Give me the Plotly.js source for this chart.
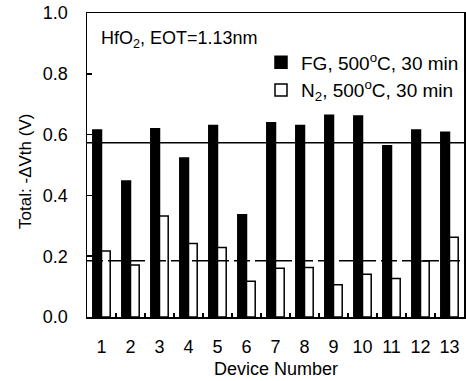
<!DOCTYPE html>
<html>
<head>
<meta charset="utf-8">
<script src="https://cdn.plot.ly/plotly-3.0.1.min.js"></script>
<style>
  html, body { margin: 0; padding: 0; background: #fff; }
  #chart { width: 466px; height: 381px; }
</style>
</head>
<body>
<div id="chart"></div>
<script>
// Threshold-voltage shift per device for the two anneal conditions
const devices = ['1', '2', '3', '4', '5', '6', '7', '8', '9', '10', '11', '12', '13'];
const fgShift = [0.615, 0.447, 0.619, 0.523, 0.630, 0.336, 0.639, 0.630, 0.664, 0.661, 0.563, 0.615, 0.608];
const n2Shift = [0.217, 0.171, 0.332, 0.242, 0.229, 0.118, 0.160, 0.163, 0.106, 0.141, 0.127, 0.184, 0.262];

// Average levels drawn across the plot
const fgAverage = 0.573;
const n2Average = 0.185;

const yTicks = [0, 0.2, 0.4, 0.6, 0.8, 1.0];
const yTickText = ['0.0', '0.2', '0.4', '0.6', '0.8', '1.0'];

const FONT = 'Liberation Sans, Arial, Helvetica, sans-serif';

const traces = [
  {
    type: 'bar',
    name: 'FG, 500<sup>o</sup>C, 30 min',
    x: devices,
    y: fgShift,
    marker: { color: '#000', line: { color: '#000', width: 1.5 } }
  },
  {
    type: 'bar',
    name: 'N<sub>2</sub>, 500<sup>o</sup>C, 30 min',
    x: devices,
    y: n2Shift,
    marker: { color: '#fff', line: { color: '#000', width: 1.5 } }
  }
];

const layout = {
  width: 466,
  height: 381,
  margin: { l: 87, r: 2, t: 13, b: 64 },
  paper_bgcolor: '#fff',
  plot_bgcolor: '#fff',
  font: { family: FONT, size: 18, color: '#000' },
  barmode: 'group',
  bargap: 0.4,
  bargroupgap: 0,
  showlegend: true,
  legend: {
    x: 1, xanchor: 'right',
    y: 0.9, yanchor: 'top',
    bgcolor: 'rgba(0,0,0,0)',
    font: { family: FONT, size: 19, color: '#000' },
    tracegroupgap: 0,
    itemclick: false
  },
  xaxis: {
    type: 'category',
    showline: true, linecolor: '#000', linewidth: 1.5, mirror: true,
    ticks: 'inside', ticklen: 4, tickwidth: 1.5, tickcolor: '#000',
    tickson: 'boundaries',
    tickangle: 0,
    ticklabelstandoff: 13,
    showgrid: false, zeroline: false,
    tickfont: { family: FONT, size: 18, color: '#000' }
  },
  yaxis: {
    range: [0, 1.0],
    tickvals: yTicks,
    ticktext: yTickText,
    showline: true, linecolor: '#000', linewidth: 1.5, mirror: true,
    ticks: 'inside', ticklen: 5, tickwidth: 1.5, tickcolor: '#000',
    ticklabelstandoff: 14,
    showgrid: false, zeroline: false,
    tickfont: { family: FONT, size: 18, color: '#000' }
  },
  shapes: [
    {
      type: 'line', xref: 'paper', yref: 'y',
      x0: 0, x1: 1, y0: fgAverage, y1: fgAverage,
      line: { color: '#000', width: 1.5 }
    },
    {
      type: 'line', xref: 'paper', yref: 'y',
      x0: 0, x1: 1, y0: n2Average, y1: n2Average,
      line: { color: '#000', width: 1.5, dash: '16px,5px' }
    }
  ],
  annotations: [
    {
      text: 'HfO<sub>2</sub>, EOT=1.13nm',
      xref: 'paper', yref: 'paper',
      x: 0.033, y: 0.912, xanchor: 'left', yanchor: 'middle',
      showarrow: false,
      font: { family: FONT, size: 18, color: '#000' }
    },
    {
      text: 'Device Number',
      xref: 'paper', yref: 'paper',
      x: 0.5, y: -0.17, xanchor: 'center', yanchor: 'middle',
      showarrow: false,
      font: { family: FONT, size: 18, color: '#000' }
    },
    {
      text: 'Total: -ΔVth (V)',
      xref: 'paper', yref: 'paper',
      x: -0.165, y: 0.48, xanchor: 'center', yanchor: 'middle',
      textangle: -90,
      showarrow: false,
      font: { family: FONT, size: 17, color: '#000' }
    }
  ]
};

Plotly.newPlot('chart', traces, layout, { displayModeBar: false, staticPlot: true });
</script>
</body>
</html>
